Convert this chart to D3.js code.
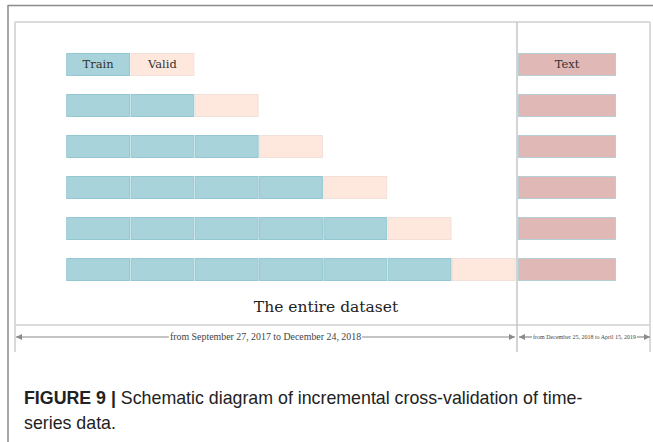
<!DOCTYPE html>
<html>
<head>
<meta charset="utf-8">
<script src="https://cdn.jsdelivr.net/npm/d3@7"></script>
<style>
  body { margin: 0; background: #fff; }
  svg { display: block; }
</style>
</head>
<body>
<svg width="653" height="442"></svg>
<script>
// folds: number of train blocks in each row (row 0 is the legend row)
var trainBlocks = [1, 2, 3, 4, 5, 6];
var rowIds = [0, 1, 2, 3, 4, 5];
var legendLabels = ["Train", "Valid"];
var testLabel = "Text";
var trainRange = "from September 27, 2017 to December 24, 2018";
var testRange = "from December 25, 2018 to April 15, 2019";
var title = "The entire dataset";

var svg = d3.select("svg");

var x = d3.scaleLinear().domain([0, 7]).range([66, 516]);
var y = d3.scaleBand().domain(rowIds).range([53, 281]).paddingInner(0.44);

// frames
svg.append("line").attr("x1", 8).attr("x2", 653).attr("y1", 5.5).attr("y2", 5.5)
  .attr("stroke", "#8a8a8a").attr("stroke-width", 1.5);
svg.append("line").attr("x1", 8).attr("x2", 8).attr("y1", 5).attr("y2", 442)
  .attr("stroke", "#8a8a8a").attr("stroke-width", 1.5);

var frame = svg.append("g").attr("stroke", "#dadada").attr("stroke-width", 2);
frame.append("line").attr("x1", 15).attr("x2", 650).attr("y1", 22).attr("y2", 22);
frame.append("line").attr("x1", 15).attr("x2", 15).attr("y1", 22).attr("y2", 352);
frame.append("line").attr("x1", 650).attr("x2", 650).attr("y1", 22).attr("y2", 352);
frame.append("line").attr("x1", 15).attr("x2", 650).attr("y1", 325).attr("y2", 325);
svg.append("line").attr("x1", 517).attr("x2", 517).attr("y1", 22).attr("y2", 352)
  .attr("stroke", "#c6c6c6").attr("stroke-width", 1.5);

// rows
var rows = svg.selectAll("g.row")
  .data(rowIds)
  .enter().append("g")
  .attr("class", "row")
  .attr("transform", function (d) { return "translate(0," + y(d) + ")"; });

rows.each(function (d) {
  var g = d3.select(this);
  var n = trainBlocks[d];
  var blocks = d3.range(n);
  g.selectAll("rect.train")
    .data(blocks)
    .enter().append("rect")
    .attr("class", "train")
    .attr("x", function (j) { return x(j) + 0.75; })
    .attr("y", 0.5)
    .attr("width", function (j) { return x(j + 1) - x(j) - 1.5; })
    .attr("height", y.bandwidth() - 1)
    .attr("fill", "#a9d3db")
    .attr("stroke", "#93c8d2")
    .attr("stroke-width", 1);
  g.append("rect")
    .attr("class", "valid")
    .attr("x", x(n) + 0.75)
    .attr("y", 0.5)
    .attr("width", x(n + 1) - x(n) - 1.5)
    .attr("height", y.bandwidth() - 1)
    .attr("fill", "#fee8de")
    .attr("stroke", "#f2e0d8")
    .attr("stroke-width", 1);
  g.append("rect")
    .attr("class", "test")
    .attr("x", 518.5)
    .attr("y", 0.5)
    .attr("width", 97)
    .attr("height", y.bandwidth() - 1)
    .attr("fill", "#e0b8b5")
    .attr("stroke", "#b7cdd4")
    .attr("stroke-width", 1);
});

// legend labels: the first row doubles as legend
var ly = y(0) + y.bandwidth() / 2 + 4;
svg.selectAll("text.leg")
  .data(legendLabels)
  .enter().append("text")
  .attr("x", function (d, i) { return (x(i) + x(i + 1)) / 2; })
  .attr("y", ly)
  .attr("text-anchor", "middle")
  .attr("font-family", "DejaVu Serif, serif")
  .attr("font-size", 11.5)
  .attr("fill", "#333")
  .text(function (d) { return d; });
svg.append("text")
  .attr("x", 567).attr("y", ly)
  .attr("text-anchor", "middle")
  .attr("font-family", "DejaVu Serif, serif")
  .attr("font-size", 11.5)
  .attr("fill", "#333")
  .text(testLabel);

svg.append("text")
  .attr("x", 326).attr("y", 312)
  .attr("text-anchor", "middle")
  .attr("font-family", "DejaVu Serif, serif")
  .attr("font-size", 15.5)
  .attr("fill", "#222")
  .text(title);

// arrows
var defs = svg.append("defs");
defs.append("marker").attr("id", "ah").attr("viewBox", "0 0 10 10")
  .attr("refX", 10).attr("refY", 5).attr("markerWidth", 9).attr("markerHeight", 6)
  .attr("markerUnits", "userSpaceOnUse")
  .attr("orient", "auto-start-reverse")
  .append("path").attr("d", "M0,0L10,5L0,10Z").attr("fill", "#8a8a8a");

function arrow(x1, x2, label, size) {
  var ay = 337;
  var t = svg.append("text")
    .attr("x", (x1 + x2) / 2).attr("y", ay + size * 0.33)
    .attr("text-anchor", "middle")
    .attr("font-family", "Liberation Serif, serif")
    .attr("font-size", size)
    .attr("fill", "#444")
    .text(label);
  var w = t.node().getComputedTextLength();
  var mid = (x1 + x2) / 2;
  svg.append("line").attr("x1", mid - w / 2 - 1).attr("x2", x1).attr("y1", ay).attr("y2", ay)
    .attr("stroke", "#8a8a8a").attr("stroke-width", 1.2).attr("marker-end", "url(#ah)");
  svg.append("line").attr("x1", mid + w / 2 + 1).attr("x2", x2).attr("y1", ay).attr("y2", ay)
    .attr("stroke", "#8a8a8a").attr("stroke-width", 1.2).attr("marker-end", "url(#ah)");
}
arrow(16, 515, trainRange, 9.9);
arrow(519, 650, testRange, 6);

// caption
var cap = svg.append("text")
  .attr("font-family", "Liberation Sans, Arial, sans-serif")
  .attr("font-size", 17.8)
  .attr("fill", "#222");
cap.append("tspan").attr("x", 24).attr("y", 404).attr("font-weight", "bold").text("FIGURE 9 | ");
cap.append("tspan").text("Schematic diagram of incremental cross-validation of time-");
svg.append("text")
  .attr("font-family", "Liberation Sans, Arial, sans-serif")
  .attr("font-size", 17.8)
  .attr("fill", "#222")
  .attr("x", 24).attr("y", 429)
  .text("series data.");
</script>
</body>
</html>
